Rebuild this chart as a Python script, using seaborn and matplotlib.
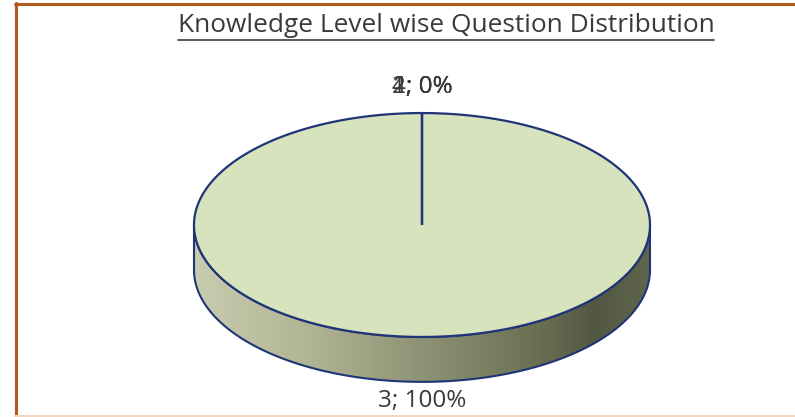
import numpy as np
import matplotlib
matplotlib.use("Agg")
import matplotlib.pyplot as plt
import seaborn as sns
from matplotlib.patches import Polygon
from matplotlib.colors import LinearSegmentedColormap
from matplotlib.lines import Line2D

# ---- data ----
levels = ["1", "2", "3", "4"]
questions = [0, 0, 3, 0]
title = "Knowledge Level wise Question Distribution"

sns.set_theme(style="white")
plt.rcParams['font.family'] = ['Open Sans', 'DejaVu Sans']

W, H = 795, 417
fig = plt.figure(figsize=(W / 100, H / 100), dpi=100)
ax = fig.add_axes([0, 0, 1, 1])

# pie geometry (layout)
cx, cy, rx = 422, 225, 228
ax.set_xlim(-cx / rx, (W - cx) / rx)
ax.set_ylim(-(H - cy) / rx, cy / rx)
ax.axis('off')

b = 0.491      # tilt (minor/major)
depth = 0.197  # thickness
top_col = '#d7e3bd'
edge = '#1f3577'
text_col = '#3a3a3a'

total = sum(questions)
fracs = np.array(questions, dtype=float) / total
starts = 90 - 360 * np.concatenate([[0], np.cumsum(fracs)[:-1]])
ends = starts - 360 * fracs


def ell(theta_deg, dy=0.0):
    t = np.radians(theta_deg)
    return np.cos(t), b * np.sin(t) + dy


# ---- side wall (front half) ----
t = np.linspace(180, 360, 300)
xs, ys = ell(t)
xs2, ys2 = ell(t[::-1], -depth)
side = np.column_stack([np.r_[xs, xs2], np.r_[ys, ys2]])
poly = Polygon(side, closed=True, facecolor='none', edgecolor=edge, lw=1.5, zorder=3)
ax.add_patch(poly)
cmap = LinearSegmentedColormap.from_list(
    'side', [(0.0, '#c9ccaf'), (0.25, '#b1b594'), (0.5, '#8f9375'),
             (0.75, '#6b7054'), (0.88, '#535843'), (1.0, '#60654d')])
grad = np.linspace(0, 1, 256)[None, :]
im = ax.imshow(grad, extent=[-1, 1, -b - depth, 0], cmap=cmap, aspect='auto',
               zorder=2, interpolation='bilinear')
im.set_clip_path(poly)

# ---- top face wedges ----
for s, e in zip(starts, ends):
    n = max(2, int(abs(s - e)) + 2)
    tt = np.linspace(s, e, n)
    ax_, ay_ = ell(tt)
    pts = np.column_stack([np.r_[0, ax_, 0], np.r_[0, ay_, 0]])
    ax.add_patch(Polygon(pts, closed=True, facecolor=top_col, edgecolor=edge,
                         lw=1.6, zorder=4, joinstyle='miter'))

ax.set_xlim(-cx / rx, (W - cx) / rx)
ax.set_ylim(-(H - cy) / rx, cy / rx)

# ---- labels ----
label_fs = 17.5
for lev, q, s, e in zip(levels, questions, starts, ends):
    mid = (s + e) / 2
    x, y = ell(mid)
    if np.sin(np.radians(mid)) < -1e-9:
        y = y - depth - 0.085
    else:
        y = y + 0.115
    ax.text(x, y, f"{lev}; {q / total:.0%}", ha='center', va='center',
            fontsize=label_fs, color=text_col, zorder=6)

# ---- title with underline ----
tt_ = fig.text(446 / W, 1 - 26 / H, title, ha='center', va='center',
               fontsize=16, color=text_col)
fig.canvas.draw()
bb = tt_.get_window_extent()
target = 537
tt_.set_fontsize(16 * target / bb.width)
fig.canvas.draw()
bb = tt_.get_window_extent()
fig.add_artist(Line2D([bb.x0 / W, bb.x1 / W], [1 - 40 / H, 1 - 40 / H],
                      transform=fig.transFigure, color=text_col, lw=1.2))

# ---- frame lines ----
fig.add_artist(Line2D([15.5 / W, 15.5 / W], [1 - 3 / H, 0], transform=fig.transFigure,
                      color='#b3591c', lw=2.2))
fig.add_artist(Line2D([15 / W, 1], [1 - 3.5 / H, 1 - 3.5 / H], transform=fig.transFigure,
                      color='#b3591c', lw=2.2))
fig.add_artist(Line2D([15 / W, 1], [1 / H, 1 / H], transform=fig.transFigure,
                      color='#f2d6c2', lw=1.5))

fig.savefig("out.png", dpi=100)
